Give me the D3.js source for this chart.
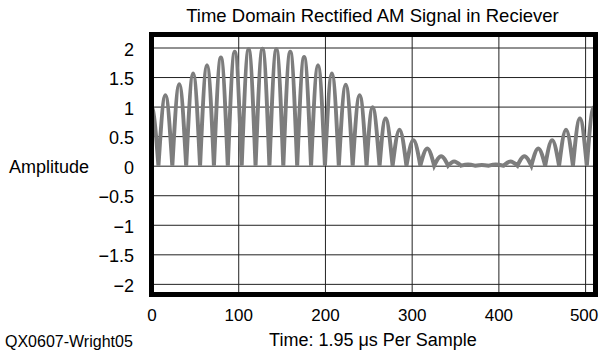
<!DOCTYPE html>
<html>
<head>
<meta charset="utf-8">
<script src="https://cdn.jsdelivr.net/npm/d3@7"></script>
<style>
  body { margin: 0; background: #fff; }
  svg { display: block; font-family: "Liberation Sans", Arial, sans-serif; }
</style>
</head>
<body>
<div id="chart"></div>
<script>
// Data
// cusp positions (sample index) where the rectified signal touches zero
const cuspX = [-8, 8, 24, 40, 56, 72, 88, 104, 120, 136, 152, 168, 184, 200, 216, 232, 248,
               263, 278, 294, 310, 326, 342, 357, 373, 389, 406, 422, 438, 454, 470, 486, 502, 518];
// lobe peak positions and heights
const peakX = [0, 16, 32, 48, 64, 80, 96, 112, 128, 144, 160, 176, 192, 208, 224, 240,
               255, 270, 286, 302, 318, 334, 349, 365, 381, 397, 414, 430, 446, 462, 478, 494, 510];
const peakY = [1.0, 1.19, 1.38, 1.56, 1.70, 1.83, 1.93, 1.97, 1.98, 1.97, 1.93, 1.84, 1.70, 1.56, 1.37, 1.19,
               0.99, 0.80, 0.61, 0.43, 0.29, 0.16, 0.07, 0.02, 0.01, 0.02, 0.07, 0.16, 0.29, 0.43, 0.61, 0.80, 0.99];

const xTicks = [0, 100, 200, 300, 400, 500];
const xTickLabels = ["0", "100", "200", "300", "400", "500"];
const yTicks = [-2, -1.5, -1, -0.5, 0, 0.5, 1, 1.5, 2];
const yTickLabels = ["\u22122", "\u22121.5", "\u22121", "\u22120.5", "0", "0.5", "1", "1.5", "2"];

const titleText = "Time Domain Rectified AM Signal in Reciever";
const xLabel = "Time: 1.95 \u03bcs Per Sample";
const yLabel = "Amplitude";
const creditText = "QX0607-Wright05";

// Dimensions and margins
const W = 599, H = 355;
const margin = {top: 34.5, left: 151.5},
    width = 444,
    height = 260;

const svg = d3.select("#chart")
    .append("svg")
        .attr("width", W)
        .attr("height", H);

const g = svg.append("g")
    .attr("transform", `translate(${margin.left},${margin.top})`);

const x = d3.scaleLinear()
    .domain([0, 512])
    .range([0, width]);

const y = d3.scaleLinear()
    .domain([-2.18, 2.22])
    .range([height, 0]);

// grid lines
g.append("g")
    .attr("transform", `translate(0,${height})`)
    .call(d3.axisBottom(x).tickValues(xTicks).tickSize(-height).tickFormat(""))
    .call(a => a.select(".domain").remove())
    .selectAll("line")
        .attr("stroke", "#222")
        .attr("stroke-width", 1);

g.append("g")
    .call(d3.axisLeft(y).tickValues(yTicks).tickSize(-width).tickFormat(""))
    .call(a => a.select(".domain").remove())
    .selectAll("line")
        .attr("stroke", "#222")
        .attr("stroke-width", 1);

// tick labels
g.append("g")
    .call(d3.axisLeft(y).tickValues(yTicks).tickSize(0).tickPadding(17.5)
        .tickFormat((d, i) => yTickLabels[i]))
    .call(a => a.select(".domain").remove())
    .selectAll("text")
        .attr("dy", "0.42em")
        .style("font-size", "18px")
        .style("font-family", "'Liberation Sans', Arial, sans-serif")
        .attr("fill", "#000");

g.append("g")
    .attr("transform", `translate(0,${height})`)
    .call(d3.axisBottom(x).tickValues(xTicks).tickSize(0).tickPadding(14.8)
        .tickFormat((d, i) => xTickLabels[i]))
    .call(a => a.select(".domain").remove())
    .selectAll("text")
        .attr("dx", (d, i) => i === xTicks.length - 1 ? -1.5 : 0)
        .style("font-size", "17px")
        .style("font-family", "'Liberation Sans', Arial, sans-serif")
        .attr("fill", "#000");

// signal: one lobe per pair of cusps, joined into a single path
svg.append("clipPath")
    .attr("id", "plot-clip")
  .append("rect")
    .attr("width", width)
    .attr("height", height);

const lobe = d3.line()
    .x(d => x(d[0]))
    .y(d => y(d[1]))
    .curve(d3.curveNatural);

let dStr = "";
peakX.forEach(function(px, i) {
    const s = lobe([[cuspX[i], 0], [px, peakY[i]], [cuspX[i + 1], 0]]);
    dStr += (i === 0) ? s : s.slice(s.indexOf("C"));
});

g.append("path")
    .attr("clip-path", "url(#plot-clip)")
    .attr("d", dStr)
    .attr("fill", "none")
    .attr("stroke", "#7d7d7d")
    .attr("stroke-width", 4);

// thick frame
g.append("rect")
    .attr("width", width)
    .attr("height", height)
    .attr("fill", "none")
    .attr("stroke", "#000")
    .attr("stroke-width", 5);

// Title and labels
svg.append("text")
    .attr("x", 372.5)
    .attr("y", 21.7)
    .style("text-anchor", "middle")
    .style("font-size", "18.5px")
    .text(titleText);

svg.append("text")
    .attr("x", 9)
    .attr("y", 173)
    .style("font-size", "18px")
    .text(yLabel);

svg.append("text")
    .attr("x", 373)
    .attr("y", 346)
    .style("text-anchor", "middle")
    .style("font-size", "18px")
    .text(xLabel);

svg.append("text")
    .attr("x", 5)
    .attr("y", 346.7)
    .style("font-size", "16px")
    .text(creditText);
</script>
</body>
</html>
